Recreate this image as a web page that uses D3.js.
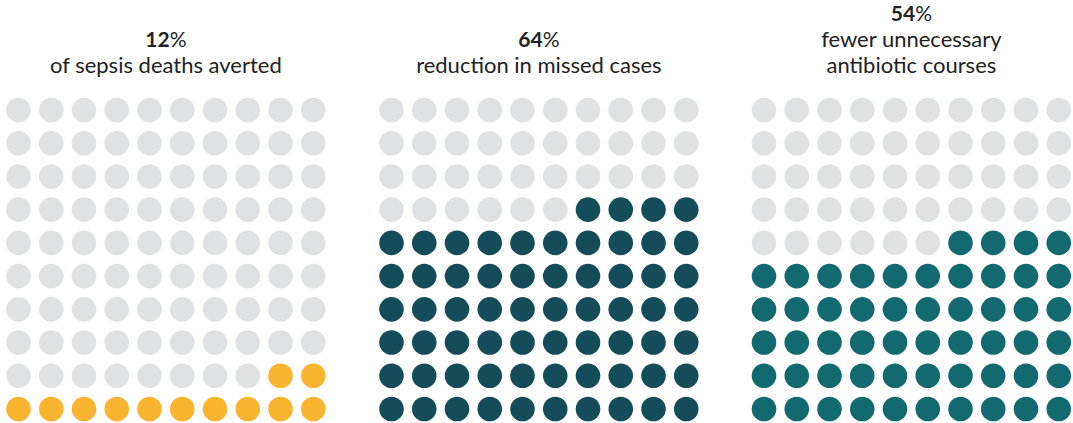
<!DOCTYPE html>
<html><head><meta charset="utf-8">
<script src="https://cdn.jsdelivr.net/npm/d3@7"></script>
<style>body{margin:0;background:#fff}svg{display:block}</style>
</head><body>
<svg id="c" width="1073" height="423"></svg>
<script>
const percents = [12, 64, 54];
const titleLines = [
  ["of sepsis deaths averted"],
  ["reduction in missed cases"],
  ["fewer unnecessary", "antibiotic courses"]
];
const fillColors = ["#fbb42f", "#154c59", "#126970"];
const emptyColor = "#e0e1e3";
const panelLeft = [18.5, 391.5, 764];

const svg = d3.select("#c");
const idx = d3.range(10);
const y = d3.scalePoint().domain(idx).range([110, 409]);
const font = "Lato, 'Noto Sans', sans-serif";

percents.forEach((p, k) => {
  const x = d3.scalePoint().domain(idx).range([panelLeft[k], panelLeft[k] + 9 * 32.75]);
  const g = svg.append("g");
  const cells = [];
  for (let r = 0; r < 10; r++) for (let c = 0; c < 10; c++) {
    // fill from bottom row upward, right to left
    const rank = (9 - r) * 10 + (9 - c);
    cells.push({r, c, on: rank < p});
  }
  g.selectAll("circle").data(cells).join("circle")
    .attr("cx", d => x(d.c)).attr("cy", d => y(d.r)).attr("r", 12.3)
    .attr("fill", d => d.on ? fillColors[k] : emptyColor);

  const cx = (x(0) + x(9)) / 2;
  const lines = titleLines[k];
  const lastBase = 72.5, lh = 26;
  const pctBase = lastBase - lh * lines.length;
  const t = g.append("text").attr("x", cx).attr("y", pctBase).attr("text-anchor", "middle")
    .attr("font-family", font).attr("font-size", 21).attr("fill", "#222");
  t.append("tspan").attr("font-weight", 700).text(p);
  t.append("tspan").attr("font-weight", 400).text("%");
  lines.forEach((ln, i) => {
    g.append("text").attr("x", cx).attr("y", pctBase + lh * (i + 1)).attr("text-anchor", "middle")
      .attr("font-family", font).attr("font-size", 22).attr("fill", "#222").text(ln);
  });
});
</script>
</body></html>
